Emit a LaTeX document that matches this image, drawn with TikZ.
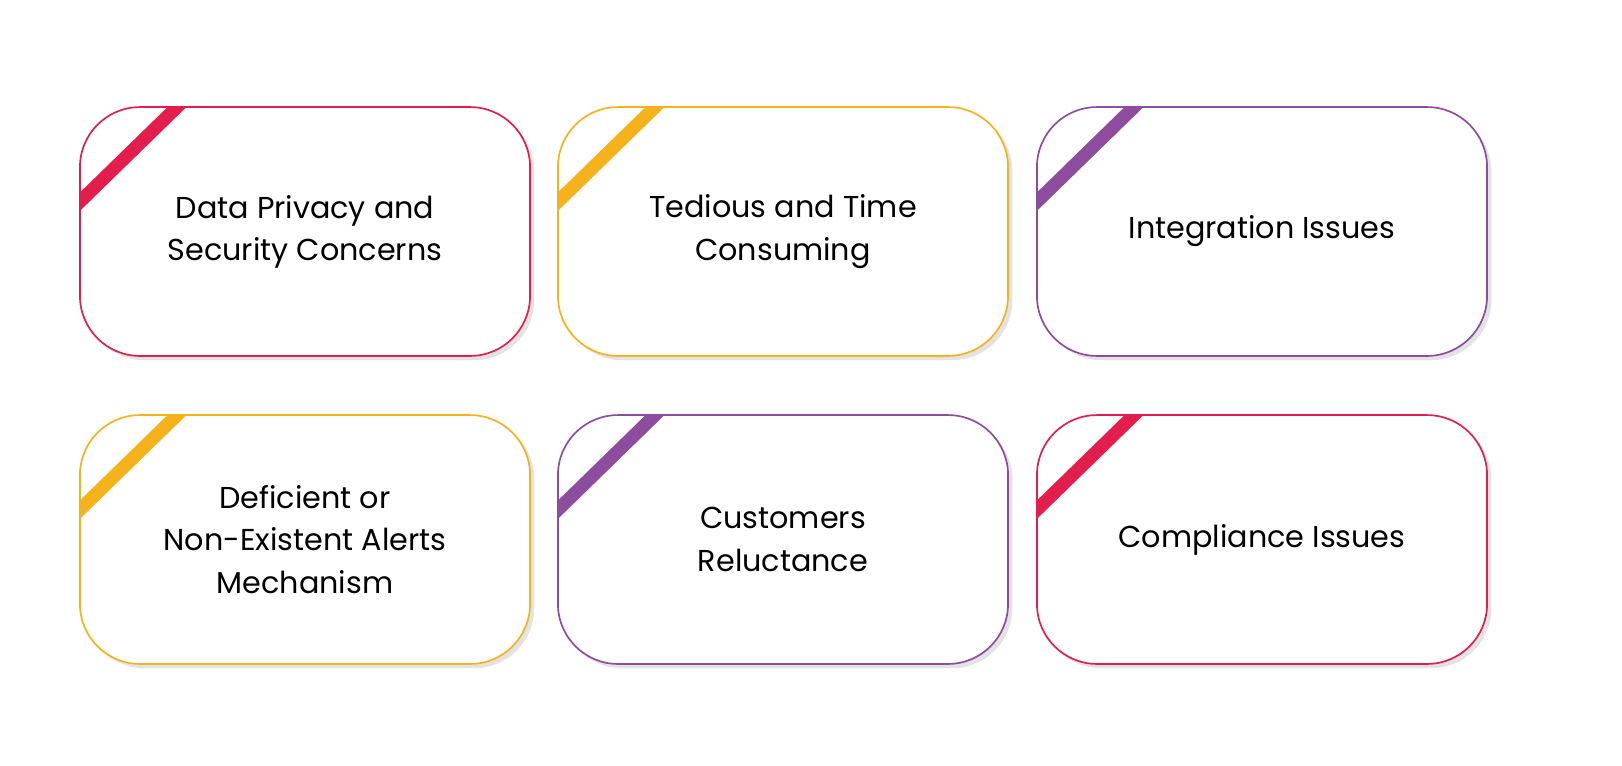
\documentclass[tikz,border=0pt]{standalone}
\usepackage{fontspec}
\setmainfont{Poppins}
\usetikzlibrary{positioning,shadows,calc}
\definecolor{my_red}{RGB}{228, 30, 76}
\definecolor{my_yellow}{RGB}{246, 178, 26}
\definecolor{my_purple}{RGB}{142, 76, 158}
\tikzset{
  issue/.style = {draw, line width=1.2pt, fill=white, rounded corners=1.5cm,
    minimum width=11.25cm, minimum height=6.22cm, align=center, text=black,
    font=\fontsize{21.5}{30}\selectfont,
    drop shadow={shadow xshift=3pt, shadow yshift=-3pt, opacity=0.18, fill=black!60}},
  ribbon/.style = {line width=0.33cm}
}
% box name, centre, colour, text
\newcommand{\issuebox}[4]{
  \node[issue, draw=#3] (#1) at (#2) {#4};
  \begin{scope}
    \clip[rounded corners=1.5cm] (#1.south west) rectangle (#1.north east);
    \draw[ribbon, #3] ($(#1.north west)+(109,-10)$) -- ($(#1.north west)+(-10,106)$);
  \end{scope}
}
\begin{document}
\begin{tikzpicture}[x=0.025cm, y=-0.025cm]
  \useasboundingbox (0,0) rectangle (1622,765);
  \issuebox{privacy}{305,231.5}{my_red}{Data Privacy and\\Security Concerns}
  \issuebox{tedious}{783,231.5}{my_yellow}{Tedious and Time\\Consuming}
  \issuebox{integration}{1262,231.5}{my_purple}{Integration Issues}
  \issuebox{alerts}{305,539.5}{my_yellow}{Deficient or\\Non-Existent Alerts\\Mechanism}
  \issuebox{customers}{783,539.5}{my_purple}{Customers\\Reluctance}
  \issuebox{compliance}{1262,539.5}{my_red}{Compliance Issues}
\end{tikzpicture}
\end{document}
